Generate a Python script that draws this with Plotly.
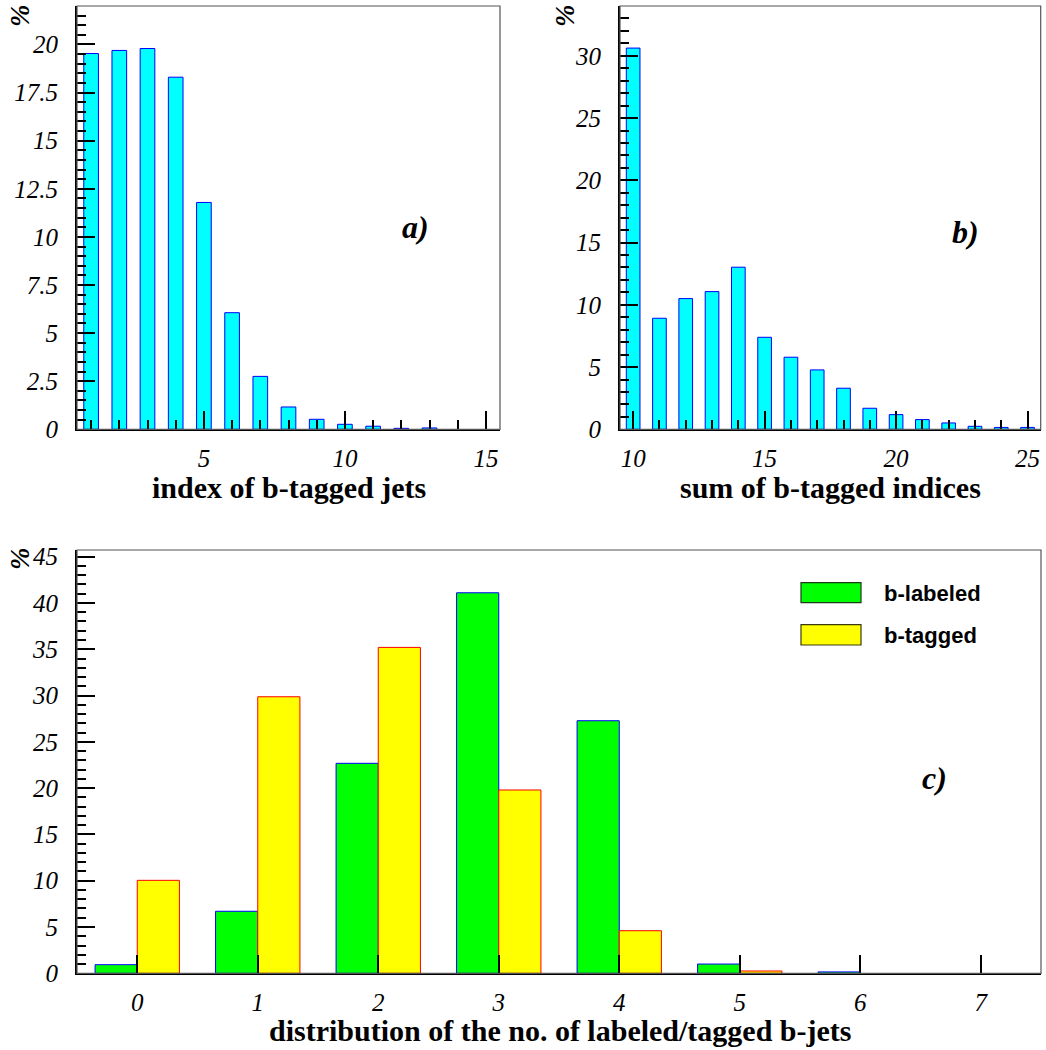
import plotly.graph_objects as go

# ---------------- data ----------------
idx_a = list(range(1, 16))
pct_a = [19.53, 19.69, 19.79, 18.30, 11.79, 6.06, 2.75, 1.16, 0.52, 0.26, 0.16, 0.05, 0.07, 0.0, 0.0]

idx_b = list(range(10, 26))
pct_b = [30.62, 8.92, 10.5, 11.06, 13.02, 7.39, 5.79, 4.77, 3.30, 1.69, 1.18, 0.78, 0.51, 0.24, 0.15, 0.15]

n_c = [0, 1, 2, 3, 4, 5, 6, 7]
labeled_c = [0.93, 6.7, 22.68, 41.1, 27.28, 1.0, 0.15, 0.0]
tagged_c = [10.04, 29.87, 35.2, 19.8, 4.6, 0.25, 0.0, 0.0]

series_names = ["b-labeled", "b-tagged"]
xtitle_a = "index of b-tagged jets"
xtitle_b = "sum of b-tagged indices"
xtitle_c = "distribution of the no. of labeled/tagged b-jets"
panel_labels = ["a)", "b)", "c)"]

W, H = 1046, 1050

def px(x):
    return x / W

def py(y):
    return 1 - y / H

def nz(vals):
    # empty bins are not drawn (no zero-height outline)
    return [v if v > 0 else None for v in vals]

fig = go.Figure()

fig.add_trace(go.Bar(x=idx_a, y=nz(pct_a), width=0.52, marker=dict(color="#00ffff", line=dict(color="#0000ff", width=1)),
                     xaxis="x", yaxis="y", showlegend=False))
fig.add_trace(go.Bar(x=idx_b, y=nz(pct_b), width=0.52, marker=dict(color="#00ffff", line=dict(color="#0000ff", width=1)),
                     xaxis="x2", yaxis="y2", showlegend=False))
fig.add_trace(go.Bar(x=n_c, y=nz(labeled_c), width=0.35, offset=-0.35, name=series_names[0],
                     marker=dict(color="#00ff00", line=dict(color="#0000ff", width=1)),
                     xaxis="x3", yaxis="y3", showlegend=False))
fig.add_trace(go.Bar(x=n_c, y=nz(tagged_c), width=0.35, offset=0.0, name=series_names[1],
                     marker=dict(color="#ffff00", line=dict(color="#ff0000", width=1)),
                     xaxis="x3", yaxis="y3", showlegend=False))

tickfont = dict(family="Liberation Serif", size=25, color="black", style="italic")

def xax(domain, rng, dtick, minor_dtick, anchor):
    d = dict(domain=domain, range=rng, anchor=anchor, showgrid=False, zeroline=False, automargin=False,
             showline=True, linecolor="black", linewidth=2,
             ticks="inside", ticklen=18, tickwidth=1.5, tickcolor="black",
             dtick=dtick, tick0=0, tickfont=tickfont, ticklabelstandoff=6)
    if minor_dtick:
        d["minor"] = dict(ticks="inside", ticklen=9, tickwidth=1.5, tickcolor="black", dtick=minor_dtick, tick0=0, showgrid=False)
    return d

def yax(domain, rng, dtick, minor_dtick, anchor):
    return dict(domain=domain, range=rng, anchor=anchor, showgrid=False, zeroline=False, automargin=False,
                showline=True, linecolor="black", linewidth=2,
                ticks="inside", ticklen=18, tickwidth=1.5, tickcolor="black",
                dtick=dtick, tick0=0, tickfont=tickfont, ticklabelstandoff=12,
                minor=dict(ticks="inside", ticklen=9, tickwidth=1.5, tickcolor="black", dtick=minor_dtick, tick0=0, showgrid=False))

frames = {
    "a": (77, 500, 6, 429.3),
    "b": (620, 1040.7, 6, 429.3),
    "c": (77, 1041, 550, 973.3),
}

fa, fb, fc = frames["a"], frames["b"], frames["c"]
fig.update_layout(
    xaxis=xax([px(fa[0]), px(fa[1])], [0.5, 15.5], 5, 1, "y"),
    yaxis=yax([py(fa[3]), py(fa[2])], [0, 22], 2.5, 0.5, "x"),
    xaxis2=xax([px(fb[0]), px(fb[1])], [9.5, 25.5], 5, 1, "y2"),
    yaxis2=yax([py(fb[3]), py(fb[2])], [0, 34], 5, 1, "x2"),
    xaxis3=xax([px(fc[0]), px(fc[1])], [-0.5, 7.5], 1, None, "y3"),
    yaxis3=yax([py(fc[3]), py(fc[2])], [0, 45.72], 5, 1, "x3"),
    barmode="overlay",
    width=W, height=H,
    margin=dict(l=0, r=0, t=0, b=0, pad=0),
    paper_bgcolor="white", plot_bgcolor="white",
    showlegend=False,
)

shapes = []
for (x0, x1, y0, y1) in frames.values():
    shapes.append(dict(type="rect", xref="paper", yref="paper", x0=px(x0), x1=px(x1), y0=py(y1), y1=py(y0),
                       line=dict(color="#555555", width=1.2), fillcolor="rgba(0,0,0,0)"))
# legend swatches
shapes.append(dict(type="rect", xref="paper", yref="paper", x0=px(801), x1=px(861), y0=py(602.7), y1=py(582.7),
                   line=dict(color="#1a3a1a", width=1.2), fillcolor="#00ff00"))
shapes.append(dict(type="rect", xref="paper", yref="paper", x0=px(801), x1=px(861), y0=py(645), y1=py(624.7),
                   line=dict(color="#3a3a10", width=1.2), fillcolor="#ffff00"))
fig.update_layout(shapes=shapes)

ann = []

def add_text(text, x, y, font, xanchor="center", angle=0):
    ann.append(dict(text=text, x=px(x), y=py(y), xref="paper", yref="paper", showarrow=False,
                    xanchor=xanchor, yanchor="middle", textangle=angle, font=font))

title_font = dict(family="Liberation Serif", size=30, color="black", weight="bold")
add_text(xtitle_a, 288.5, 487, title_font)
add_text(xtitle_b, 830, 487, title_font)
add_text(xtitle_c, 560, 1030, title_font)

lab_font = dict(family="Liberation Serif", size=32, color="black", weight="bold", style="italic")
add_text(panel_labels[0], 415, 227, lab_font)
add_text(panel_labels[1], 965, 232, lab_font)
add_text(panel_labels[2], 934, 778, lab_font)

pct_font = dict(family="Liberation Serif", size=27, color="black", weight="bold", style="italic")
for (x, y) in [(20, 16), (565, 16), (20, 559)]:
    add_text("%", x, y, pct_font, angle=-90)

leg_font = dict(family="Liberation Sans", size=22, color="black", weight="bold")
add_text(series_names[0], 882, 593, leg_font, xanchor="left")
add_text(series_names[1], 882, 635, leg_font, xanchor="left")
fig.update_layout(annotations=ann)

fig.write_html(
    "out.html",
    config={"displayModeBar": False},
    post_script="document.documentElement.style.margin='0';document.body.style.margin='0';"
                "document.body.style.padding='0';document.documentElement.style.overflow='hidden';"
                "document.body.style.overflow='hidden';",
)
